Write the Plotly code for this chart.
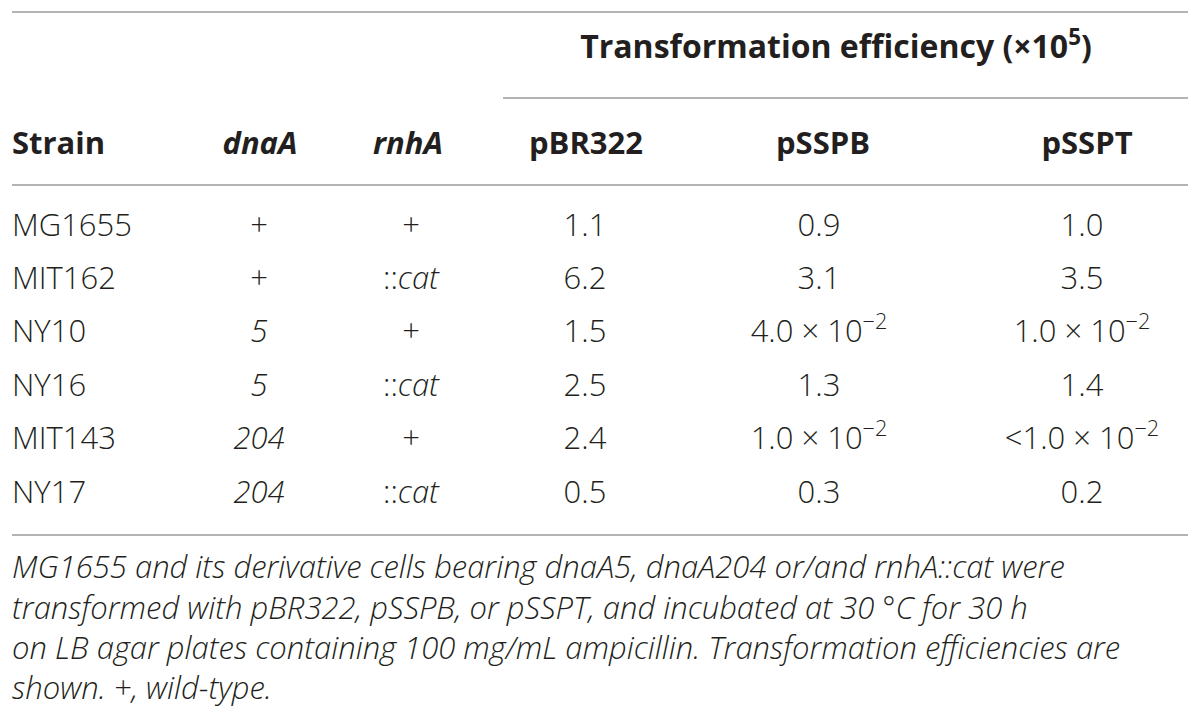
import plotly.graph_objects as go

# table contents
strains = ["MG1655", "MIT162", "NY10", "NY16", "MIT143", "NY17"]
dnaA = ["+", "+", "<i>5</i>", "<i>5</i>", "<i>204</i>", "<i>204</i>"]
rnhA = ["+", "::<i>cat</i>", "+", "::<i>cat</i>", "+", "::<i>cat</i>"]
pBR322 = ["1.1", "6.2", "1.5", "2.5", "2.4", "0.5"]
pSSPB = ["0.9", "3.1", "4.0 × 10<sup>−2</sup>", "1.3", "1.0 × 10<sup>−2</sup>", "0.3"]
pSSPT = ["1.0", "3.5", "1.0 × 10<sup>−2</sup>", "1.4", "<1.0 × 10<sup>−2</sup>", "0.2"]

col_headers = ["<b>Strain</b>", "<b><i>dnaA</i></b>", "<b><i>rnhA</i></b>",
               "<b>pBR322</b>", "<b>pSSPB</b>", "<b>pSSPT</b>"]
group_header = "<b>Transformation efficiency (×10<sup>5</sup>)</b>"
footnote = [
    "MG1655 and its derivative cells bearing dnaA5, dnaA204 or/and rnhA::cat were",
    "transformed with pBR322, pSSPB, or pSSPT, and incubated at 30 °C for 30 h",
    "on LB agar plates containing 100 mg/mL ampicillin. Transformation efficiencies are",
    "shown. +, wild-type.",
]

FONT = "Open Sans"
INK = "#231f20"
RULE = "#b3b3b3"

col_x = [12, 259, 411, 585, 819, 1082]
head_x = [12, 260, 408, 586, 823, 1087]
row_y = [228, 281, 334, 388, 441, 495]
head_y = 146
body = dict(family=FONT, size=31, color=INK, weight=300)

fig = go.Figure()

columns = [strains, dnaA, rnhA, pBR322, pSSPB, pSSPT]
for i, col in enumerate(columns):
    fig.add_trace(go.Scatter(
        x=[col_x[i]] * len(col), y=row_y, text=col, mode="text",
        textposition="middle right" if i == 0 else "middle center",
        textfont=body, hoverinfo="skip", showlegend=False,
    ))

fig.add_trace(go.Scatter(
    x=head_x, y=[head_y] * len(head_x), text=col_headers, mode="text",
    textposition=["middle right"] + ["middle center"] * 5,
    textfont=body, hoverinfo="skip", showlegend=False,
))

fig.add_trace(go.Scatter(
    x=[836], y=[50], text=[group_header], mode="text",
    textposition="middle center",
    textfont=dict(body, size=32), hoverinfo="skip", showlegend=False,
))

# footnote as one block so the lines share one text element
fig.add_trace(go.Scatter(
    x=[12], y=[631], text=["<i>" + "<br>".join(footnote) + "</i>"], mode="text",
    textposition="middle right",
    textfont=body, hoverinfo="skip", showlegend=False,
))

# rules
for x0, y in [(12, 12), (503, 98), (12, 185), (12, 535)]:
    fig.add_shape(type="line", x0=x0, x1=1188, y0=y, y1=y,
                  line=dict(color=RULE, width=2))

# page body has an 8px margin, so shift the ranges to keep pixel coordinates
fig.update_layout(
    width=1200, height=725,
    margin=dict(l=0, r=0, t=0, b=0),
    paper_bgcolor="white", plot_bgcolor="white",
    xaxis=dict(range=[8, 1208], visible=False, fixedrange=True),
    yaxis=dict(range=[733, 8], visible=False, fixedrange=True),
)

fig.write_html("out.html")
